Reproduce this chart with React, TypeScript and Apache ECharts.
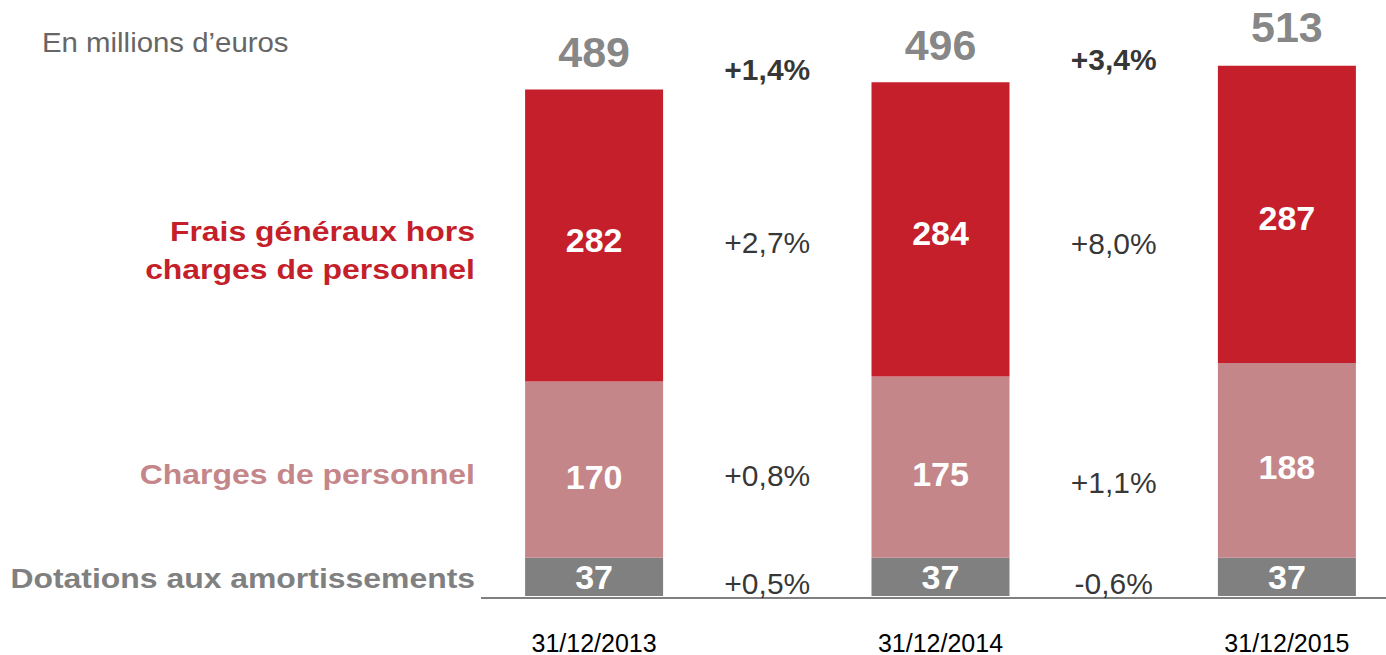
import React, { useEffect, useRef } from "react";
import * as echarts from "echarts";

const dates = ["31/12/2013", "31/12/2014", "31/12/2015"];
const dotations = [37, 37, 37];
const charges = [170, 175, 188];
const frais = [282, 284, 287];
const totals = [489, 496, 513];
const growthTotal = ["+1,4%", "+3,4%"];
const growthFrais = ["+2,7%", "+8,0%"];
const growthCharges = ["+0,8%", "+1,1%"];
const growthDotations = ["+0,5%", "-0,6%"];

// vertical placement (in axis units) of the growth-rate annotations
const growthLevels = {
  total: [508, 518],
  frais: [341, 340],
  charges: [116, 110],
  dotations: [12.5, 12.5],
};

const FONT = "'Liberation Sans', Arial, sans-serif";
const RED = "#C41F2A";
const PINK = "#C5868A";
const GREY = "#808080";

export default function App() {
  const ref = useRef<HTMLDivElement>(null);
  useEffect(() => {
    if (!ref.current) return;
    const chart = echarts.init(ref.current, null, { renderer: "svg" });

    // 5 slots: bar, gap, bar, gap, bar
    const cats: string[] = [];
    dates.forEach((d, i) => {
      cats.push(d);
      if (i < dates.length - 1) cats.push("");
    });
    const spread = (arr: number[]) => {
      const out: (number | string)[] = [];
      arr.forEach((v, i) => {
        out.push(v);
        if (i < arr.length - 1) out.push("-");
      });
      return out;
    };

    const segLabel = (size: number) => ({
      show: true,
      position: "inside",
      color: "#fff",
      fontWeight: "bold",
      fontSize: size,
      fontFamily: FONT,
    });

    const growthSeries = (texts: string[], levels: number[], bold: boolean) => ({
      type: "scatter",
      symbolSize: 0,
      silent: true,
      data: texts.map((t, i) => ({ value: [2 * i + 1, levels[i]], name: t })),
      label: {
        show: true,
        position: "inside",
        formatter: (p: any) => p.name,
        color: "#000",
        fontSize: 30,
        fontWeight: bold ? "bold" : "normal",
        fontFamily: FONT,
      },
    });

    const sideLabel = (text: string, y: number, color: string) => ({
      type: "text",
      x: 475,
      y,
      scaleX: 1.14,
      style: {
        text,
        fill: color,
        fontSize: 28,
        lineHeight: 38,
        fontWeight: "bold",
        fontFamily: FONT,
        align: "right",
        verticalAlign: "middle",
      },
    });

    chart.setOption({
      animation: false,
      grid: { left: 507.5, width: 866, top: 16, height: 582 },
      xAxis: {
        type: "category",
        data: cats,
        axisLine: { show: false },
        axisTick: { show: false },
        axisLabel: { color: "#000", fontSize: 25, fontFamily: FONT, margin: 34, interval: 0 },
      },
      yAxis: {
        type: "value",
        min: 0,
        max: 560,
        show: false,
        splitLine: { show: false },
      },
      series: [
        {
          type: "bar",
          stack: "s",
          barWidth: 138,
          data: spread(dotations),
          itemStyle: { color: GREY },
          label: segLabel(34),
        },
        {
          type: "bar",
          stack: "s",
          barWidth: 138,
          data: spread(charges),
          itemStyle: { color: PINK },
          label: { ...segLabel(34), offset: [0, 7] },
        },
        {
          type: "bar",
          stack: "s",
          barWidth: 138,
          data: spread(frais),
          itemStyle: { color: RED },
          label: { ...segLabel(34), offset: [0, 4] },
        },
        {
          type: "scatter",
          symbolSize: 0,
          silent: true,
          data: totals.map((t, i) => [2 * i, t]),
          label: {
            show: true,
            position: "top",
            distance: 16,
            formatter: (p: any) => String(p.value[1]),
            color: "#666666",
            fontSize: 43,
            fontWeight: "bold",
            fontFamily: FONT,
          },
        },
        growthSeries(growthTotal, growthLevels.total, true),
        growthSeries(growthFrais, growthLevels.frais, false),
        growthSeries(growthCharges, growthLevels.charges, false),
        growthSeries(growthDotations, growthLevels.dotations, false),
      ],
      graphic: [
        {
          type: "line",
          shape: { x1: 481, y1: 598, x2: 1386, y2: 598 },
          style: { stroke: GREY, lineWidth: 2 },
          z: 0,
        },
        {
          type: "text",
          x: 42,
          y: 42,
          scaleX: 1.05,
          style: {
            text: "En millions d\u2019euros",
            fill: "#666666",
            fontSize: 28,
            fontFamily: FONT,
            verticalAlign: "middle",
          },
        },
        sideLabel("Frais généraux hors\ncharges de personnel", 250, RED),
        sideLabel("Charges de personnel", 474, PINK),
        sideLabel("Dotations aux amortissements", 578, GREY),
      ],
    });
    return () => chart.dispose();
  }, []);
  return (
    <div
      ref={ref}
      style={{ position: "fixed", left: 0, top: 0, width: 1386, height: 655, background: "#fff" }}
    />
  );
}
